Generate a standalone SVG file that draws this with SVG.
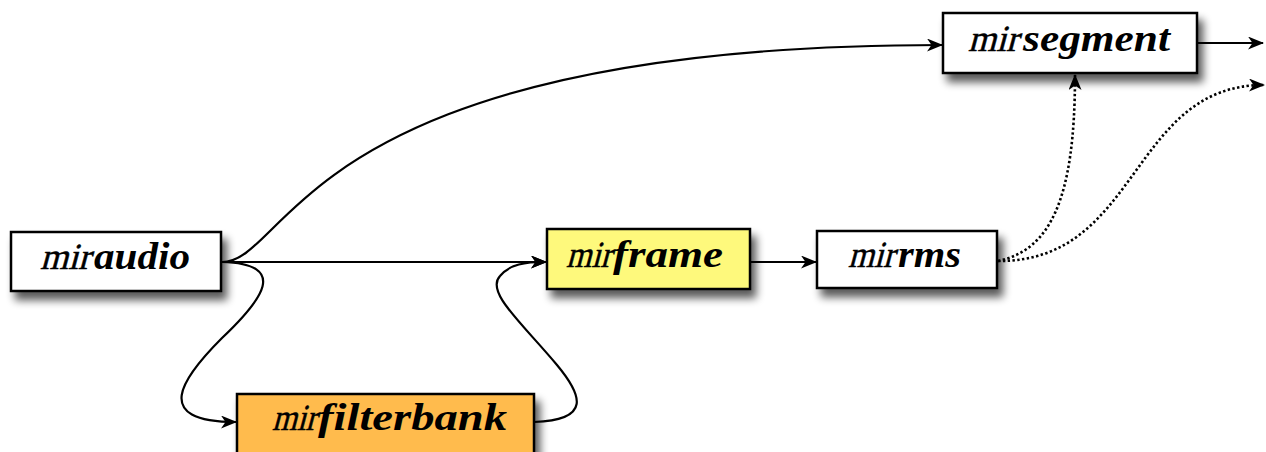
<svg xmlns="http://www.w3.org/2000/svg" width="1266" height="452" viewBox="0 0 1266 452">
<style>
.box{stroke:#000;stroke-width:2.5;filter:url(#sh)}
.m{font-family:"Liberation Serif","Times New Roman",serif;font-size:37px;fill:#000;stroke:#000;stroke-width:0.5}
.b{font-family:"Liberation Serif","Times New Roman",serif;font-style:italic;font-weight:bold;font-size:38px;fill:#000}
.c{fill:none;stroke:#000;stroke-width:2.2}
.d{fill:none;stroke:#000;stroke-width:2.6;stroke-dasharray:2.4 2.4}
</style>
<defs>
<filter id="sh" x="-20%" y="-30%" width="150%" height="190%">
<feGaussianBlur in="SourceAlpha" stdDeviation="4.5"/>
<feOffset dx="5" dy="8" result="o"/>
<feComponentTransfer><feFuncA type="linear" slope="0.65"/></feComponentTransfer>
<feMerge><feMergeNode/><feMergeNode in="SourceGraphic"/></feMerge>
</filter>
<marker id="ah" viewBox="0 0 16 13" refX="15" refY="6.5" markerWidth="16" markerHeight="13" markerUnits="userSpaceOnUse" orient="auto">
<path d="M0,0 L16,6.5 L0,13 L4.5,6.5 Z" fill="#000"/>
</marker>
</defs>
<g id="connectors">
<path class="c" d="M222,262 L546,262" marker-end="url(#ah)"/>
<path class="c" d="M222,262 C290,262 300,45 942,45" marker-end="url(#ah)"/>
<path class="c" d="M222,262 C290,264 262,300 222,338 C182,378 150,422 236,422" marker-end="url(#ah)"/>
<path class="c" d="M534,422 C592,420 582,395 557,365 C522,323 485,292 500,276 C510,264 525,262 546,262" marker-end="url(#ah)"/>
<path class="c" d="M750,262 L816,262" marker-end="url(#ah)"/>
<path class="c" d="M1197,43 L1263,43" marker-end="url(#ah)"/>
<path class="d" d="M998,261 C1050,250 1075,200 1075,75" marker-end="url(#ah)"/>
<path class="d" d="M998,261 C1140,262 1130,85 1264,85" marker-end="url(#ah)"/>
</g>
<g id="miraudio">
<rect class="box" x="11" y="232" width="210" height="59" fill="#fff"/>
<text class="m" transform="translate(40,269) skewX(-15)" textLength="50" lengthAdjust="spacingAndGlyphs">mir</text>
<text class="b" x="94" y="269" textLength="96" lengthAdjust="spacingAndGlyphs">audio</text>
</g>
<g id="mirframe">
<rect class="box" x="547" y="229" width="203" height="60" fill="#FEF97C"/>
<text class="m" transform="translate(566,267) skewX(-15)" textLength="45" lengthAdjust="spacingAndGlyphs">mir</text>
<text class="b" x="613" y="267" textLength="110" lengthAdjust="spacingAndGlyphs">frame</text>
</g>
<g id="mirrms">
<rect class="box" x="817" y="231" width="180" height="57" fill="#fff"/>
<text class="m" transform="translate(848,267) skewX(-15)" textLength="46" lengthAdjust="spacingAndGlyphs">mir</text>
<text class="b" x="898" y="267" textLength="63" lengthAdjust="spacingAndGlyphs">rms</text>
</g>
<g id="mirsegment">
<rect class="box" x="943" y="13" width="254" height="60" fill="#fff"/>
<text class="m" transform="translate(968,51) skewX(-15)" textLength="50" lengthAdjust="spacingAndGlyphs">mir</text>
<text class="b" x="1023" y="51" textLength="147" lengthAdjust="spacingAndGlyphs">segment</text>
</g>
<g id="mirfilterbank">
<rect class="box" x="237" y="394" width="297" height="62" fill="#FFBB4E"/>
<text class="m" transform="translate(272,430) skewX(-15)" textLength="44" lengthAdjust="spacingAndGlyphs">mir</text>
<text class="b" x="318" y="430" textLength="189" lengthAdjust="spacingAndGlyphs">filterbank</text>
</g>
</svg>
